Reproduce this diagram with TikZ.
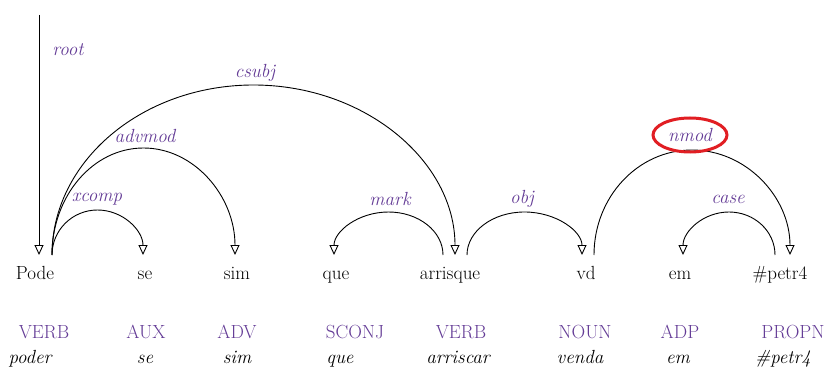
\documentclass[tikz,border=0pt]{standalone}
\usepackage{fontspec}
\usetikzlibrary{arrows.meta}
\definecolor{deppurple}{RGB}{100,60,150}
\definecolor{ringred}{RGB}{225,30,35}
\begin{document}
\begin{tikzpicture}[x=1pt,y=1pt,
  word/.style={anchor=base,inner sep=0pt,font=\fontsize{19}{19}\selectfont},
  postag/.style={anchor=base,inner sep=0pt,text=deppurple,font=\fontsize{19}{19}\selectfont},
  lemma/.style={anchor=base,inner sep=0pt,font=\fontsize{19}{19}\selectfont\itshape},
  deplabel/.style={inner sep=0pt,text=deppurple,font=\fontsize{19}{19}\selectfont\itshape},
  dep/.style={line width=0.9pt,-{Triangle[open,length=10pt,width=9pt]}},
  ring/.style={draw=ringred,line width=3pt}]
\useasboundingbox (0,0) rectangle (827,370);
% words
\node[word] (w1) at (35,91) {Pode};
\node[word] (w2) at (145,91) {se};
\node[word] (w3) at (237,91) {sim};
\node[word] (w4) at (336,91) {que};
\node[word] (w5) at (450,91) {arrisque};
\node[word] (w6) at (586,91) {vd};
\node[word] (w7) at (680,91) {em};
\node[word] (w8) at (780,91) {\#petr4};
% POS
\node[postag] (p1) at (44,32) {VERB};
\node[postag] (p2) at (146,32) {AUX};
\node[postag] (p3) at (237,32) {ADV};
\node[postag] (p4) at (355,32) {SCONJ};
\node[postag] (p5) at (461,32) {VERB};
\node[postag] (p6) at (585,32) {NOUN};
\node[postag] (p7) at (680,32) {ADP};
\node[postag] (p8) at (793,32) {PROPN};
% lemmas
\node[lemma] (l1) at (30,7) {poder};
\node[lemma] (l2) at (145,7) {se};
\node[lemma] (l3) at (237,7) {sim};
\node[lemma] (l4) at (340,7) {que};
\node[lemma] (l5) at (458,7) {arriscar};
\node[lemma] (l6) at (580,7) {venda};
\node[lemma] (l7) at (678,7) {em};
\node[lemma] (l8) at (783,7) {\#petr4};
% arc end points
\coordinate (rt) at (39,355);
\coordinate (a1) at (39,115);
\coordinate (a1b) at (52,115);
\coordinate (a5out) at (443,115);
\coordinate (a5obj) at (467,115);
\coordinate (a6out) at (594,115);
\coordinate (a8out) at (775,115);
% arcs
\draw[dep] (rt) -- (a1);
\draw[dep] (a1b) arc[start angle=180,end angle=0,x radius=45.5,y radius=45];
\draw[dep] (a1b) arc[start angle=180,end angle=0,x radius=91.5,y radius=107];
\draw[dep] (a1b) arc[start angle=180,end angle=0,x radius=201.5,y radius=170];
\draw[dep] (a5out) arc[start angle=0,end angle=180,x radius=54.5,y radius=43];
\draw[dep] (a5obj) arc[start angle=180,end angle=0,x radius=57.5,y radius=43];
\draw[dep] (a6out) arc[start angle=180,end angle=0,x radius=98,y radius=105];
\draw[dep] (a8out) arc[start angle=0,end angle=180,x radius=46,y radius=43];
% labels
\node[deplabel] (root) at (68,320) {root};
\node[deplabel] (xcomp) at (97,171) {xcomp};
\node[deplabel] (advmod) at (145,234) {advmod};
\node[deplabel] (csubj) at (255,297) {csubj};
\node[deplabel] (mark) at (390,171) {mark};
\node[deplabel] (obj) at (522,171) {obj};
\node[deplabel] (nmod) at (690,235) {nmod};
\node[deplabel] (case) at (728,171) {case};
\draw[ring] (nmod) ellipse[x radius=37,y radius=17];
\end{tikzpicture}
\end{document}
